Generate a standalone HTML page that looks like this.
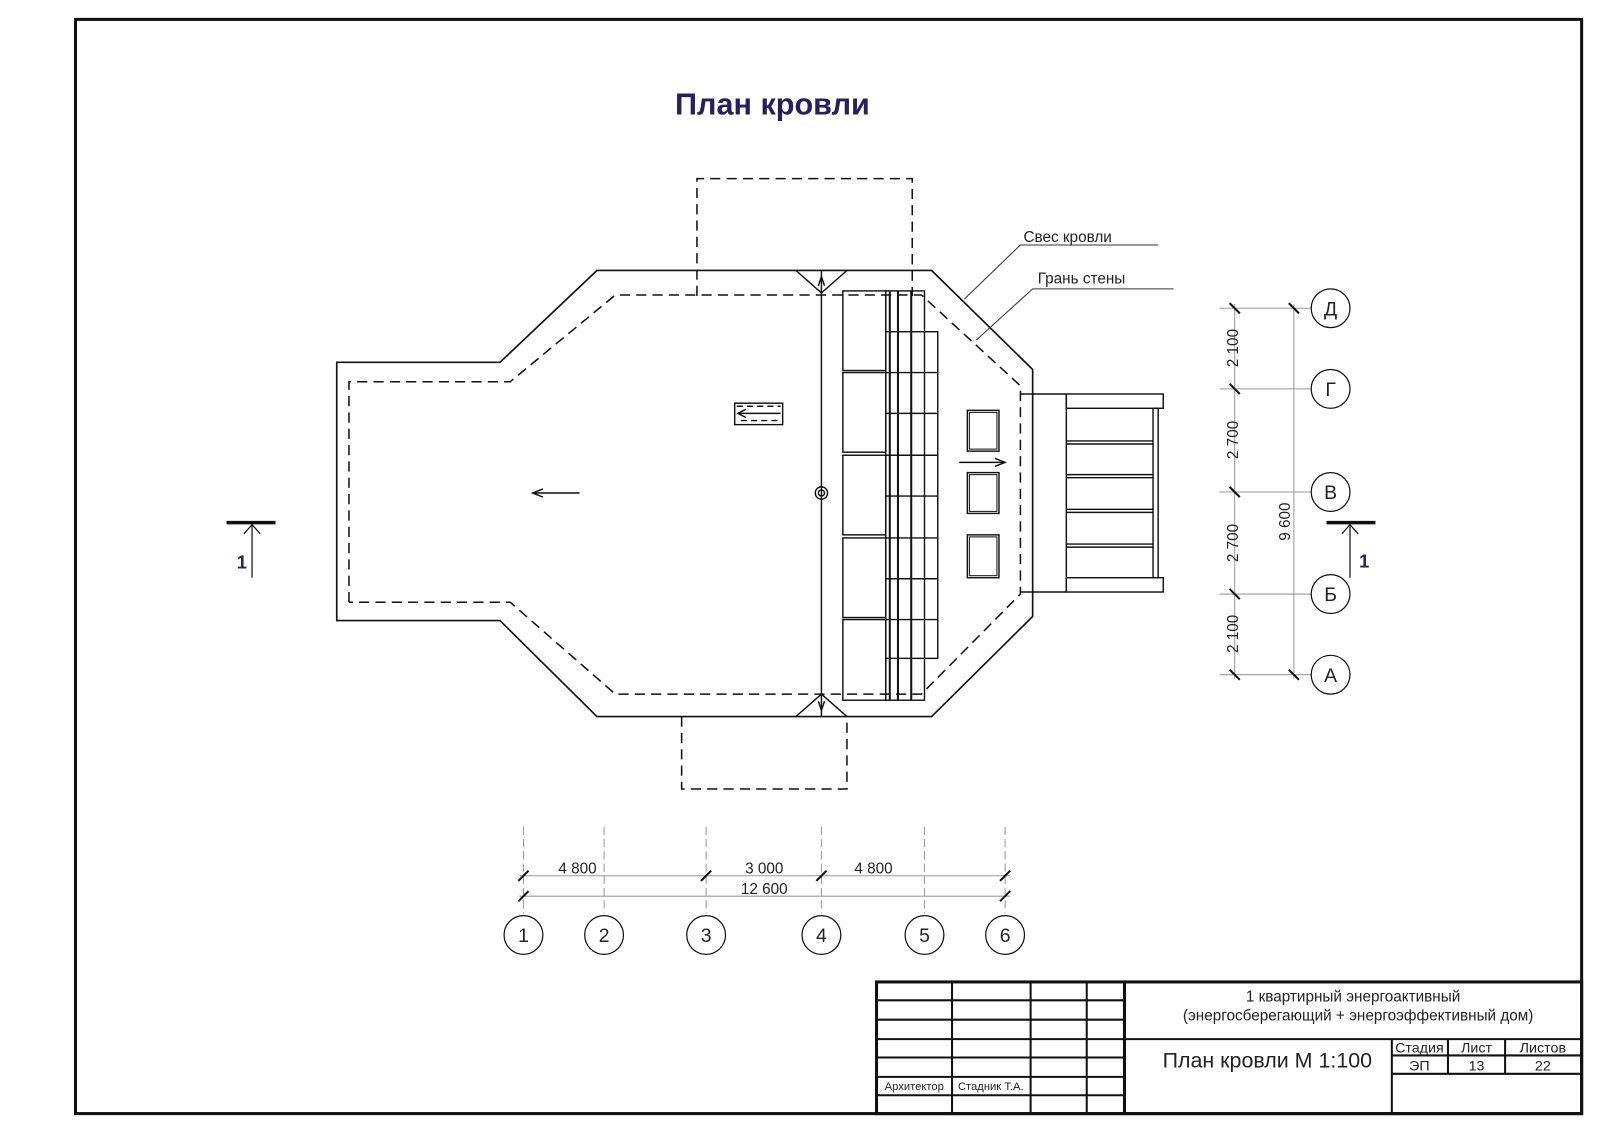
<!DOCTYPE html>
<html><head><meta charset="utf-8"><style>
html,body{margin:0;padding:0;background:#fff;width:1600px;height:1133px;overflow:hidden}
svg{display:block}
text{font-family:"Liberation Sans","DejaVu Sans",sans-serif;fill:#222}
</style></head><body>
<svg width="1600" height="1133" viewBox="0 0 1568 1110" preserveAspectRatio="none" xmlns="http://www.w3.org/2000/svg">
<rect x="0" y="0" width="1568" height="1110" fill="#fff"/>
<rect x="74" y="19" width="1476" height="1072" fill="none" stroke="#111" stroke-width="3"/>
<text x="757" y="112" font-size="30" font-weight="bold" text-anchor="middle" style="fill:#25205e">План кровли</text>

<g fill="none" stroke="#111" stroke-width="1.6">
<polygon points="585,265 913,265 1012,362 1012,604 913,702 585,702 490,608 330,608 330,355 490,355"/>
</g>
<g fill="none" stroke="#111" stroke-width="1.5" stroke-dasharray="10,6">
<polyline points="342,590 342,374 500,374 603,289 903,289 1000,378 1000,582 903,680 603,680 500,590 342,590"/>
<polyline points="683,290 683,175 894,175 894,290"/>
<polyline points="668,702 668,773 830,773 830,702"/>
</g>
<g fill="none" stroke="#111" stroke-width="1.4">
<line x1="805" y1="265" x2="805" y2="702"/>
<polyline points="780,265 805,287 830,265"/>
<polyline points="780,702 805,680 830,702"/>
<polyline points="802,280 805,271 808,280"/>
<polyline points="802,687 805,696 808,687"/>
<circle cx="805" cy="483" r="6"/><circle cx="805" cy="483" r="3"/>
<rect x="826" y="285" width="42" height="78"/>
<rect x="826" y="365" width="42" height="78"/>
<rect x="826" y="446" width="42" height="78"/>
<rect x="826" y="527" width="42" height="78"/>
<rect x="826" y="607" width="42" height="79"/>
<rect x="868" y="325" width="51" height="320"/>
<rect x="868" y="285" width="38" height="401"/>
<line x1="872" y1="285" x2="872" y2="686" stroke-width="2"/>
<line x1="880" y1="285" x2="880" y2="686" stroke-width="2"/>
<line x1="893" y1="285" x2="893" y2="686" stroke-width="2"/>
<line x1="868" y1="365" x2="919" y2="365"/>
<line x1="868" y1="405" x2="919" y2="405"/>
<line x1="868" y1="446" x2="919" y2="446"/>
<line x1="868" y1="486" x2="919" y2="486"/>
<line x1="868" y1="527" x2="919" y2="527"/>
<line x1="868" y1="567" x2="919" y2="567"/>
<line x1="868" y1="607" x2="919" y2="607"/>
<rect x="948" y="402" width="31" height="40" stroke-width="1.4"/><rect x="950" y="404" width="27" height="36" stroke-width="1"/>
<rect x="948" y="463" width="31" height="40" stroke-width="1.4"/><rect x="950" y="465" width="27" height="36" stroke-width="1"/>
<rect x="948" y="524" width="31" height="42" stroke-width="1.4"/><rect x="950" y="526" width="27" height="38" stroke-width="1"/>
<line x1="940" y1="453" x2="985" y2="453"/><polyline points="975,449 985,453 975,457"/>
<rect x="720" y="395" width="47" height="21"/>
<line x1="723" y1="405" x2="765" y2="405"/><polyline points="731,401 723,405 731,409"/>
<line x1="722" y1="398" x2="765" y2="398" stroke-dasharray="6,4"/>
<line x1="726" y1="412" x2="765" y2="412" stroke-dasharray="6,4"/>
<line x1="522" y1="483" x2="568" y2="483"/><polyline points="532,479 522,483 532,487"/>
<line x1="1000" y1="386" x2="1045" y2="386"/>
<line x1="1000" y1="580" x2="1045" y2="580"/>
<rect x="1045" y="386" width="95" height="14"/>
<rect x="1045" y="566" width="95" height="14"/>
<line x1="1045" y1="386" x2="1045" y2="580"/>
<rect x="1130" y="400" width="5" height="166"/>
<line x1="1045" y1="432" x2="1130" y2="432"/><line x1="1045" y1="435" x2="1130" y2="435"/>
<line x1="1045" y1="465" x2="1130" y2="465"/><line x1="1045" y1="468" x2="1130" y2="468"/>
<line x1="1045" y1="499" x2="1130" y2="499"/><line x1="1045" y1="502" x2="1130" y2="502"/>
<line x1="1045" y1="533" x2="1130" y2="533"/><line x1="1045" y1="536" x2="1130" y2="536"/>
</g>
<g stroke="#333" stroke-width="1" fill="none">
<polyline points="945,293 1000,240 1135,240"/>
<polyline points="957,333 1012,283 1150,283"/>
</g>
<text x="1003" y="237" font-size="15">Свес кровли</text>
<text x="1017" y="278" font-size="15">Грань стены</text>

<g stroke="#111" fill="none">
<line x1="222" y1="512" x2="270" y2="512" stroke-width="3.5"/>
<line x1="247" y1="514" x2="247" y2="566" stroke-width="1.2"/>
<polyline points="239,523 247,514 255,523" stroke-width="1.2"/>
<line x1="1300" y1="512" x2="1348" y2="512" stroke-width="3.5"/>
<line x1="1323" y1="514" x2="1323" y2="566" stroke-width="1.2"/>
<polyline points="1315,523 1323,514 1331,523" stroke-width="1.2"/>
</g>
<text x="232" y="557" font-size="18" font-weight="bold" style="fill:#25205e">1</text>
<text x="1332" y="556" font-size="18" font-weight="bold" style="fill:#25205e">1</text>

<g stroke="#999" stroke-width="1" fill="none">
<line x1="1210" y1="298" x2="1210" y2="665"/>
<line x1="1268" y1="298" x2="1268" y2="665"/>
<line x1="1195" y1="302" x2="1285" y2="302"/>
<line x1="1195" y1="381" x2="1285" y2="381"/>
<line x1="1195" y1="482" x2="1285" y2="482"/>
<line x1="1195" y1="582" x2="1285" y2="582"/>
<line x1="1195" y1="661" x2="1285" y2="661"/>
</g>
<g stroke="#111" stroke-width="2">
<line x1="1205" y1="297" x2="1215" y2="307"/><line x1="1263" y1="297" x2="1273" y2="307"/>
<line x1="1205" y1="376" x2="1215" y2="386"/>
<line x1="1205" y1="477" x2="1215" y2="487"/>
<line x1="1205" y1="577" x2="1215" y2="587"/>
<line x1="1205" y1="656" x2="1215" y2="666"/><line x1="1263" y1="656" x2="1273" y2="666"/>
</g>
<g font-size="15">
<text transform="translate(1213,341) rotate(-90)" text-anchor="middle">2 100</text>
<text transform="translate(1213,431) rotate(-90)" text-anchor="middle">2 700</text>
<text transform="translate(1213,532) rotate(-90)" text-anchor="middle">2 700</text>
<text transform="translate(1213,621) rotate(-90)" text-anchor="middle">2 100</text>
<text transform="translate(1264,511) rotate(-90)" text-anchor="middle">9 600</text>
</g>
<g fill="none" stroke="#111" stroke-width="1.2">
<circle cx="1304" cy="302" r="19"/><circle cx="1304" cy="381" r="19"/><circle cx="1304" cy="482" r="19"/><circle cx="1304" cy="582" r="19"/><circle cx="1304" cy="661" r="19"/>
</g>
<g font-size="19" text-anchor="middle">
<text x="1304" y="309">Д</text><text x="1304" y="388">Г</text><text x="1304" y="489">В</text><text x="1304" y="589">Б</text><text x="1304" y="668">А</text>
</g>

<g stroke="#999" stroke-width="1" fill="none">
<g stroke-dasharray="8,4">
<line x1="513" y1="810" x2="513" y2="895"/><line x1="592" y1="810" x2="592" y2="895"/><line x1="692" y1="810" x2="692" y2="895"/><line x1="805" y1="810" x2="805" y2="895"/><line x1="906" y1="810" x2="906" y2="895"/><line x1="985" y1="810" x2="985" y2="895"/>
</g>
<line x1="509" y1="858" x2="990" y2="858"/>
<line x1="509" y1="878" x2="990" y2="878"/>
</g>
<g stroke="#111" stroke-width="2">
<line x1="508" y1="863" x2="518" y2="853"/><line x1="687" y1="863" x2="697" y2="853"/><line x1="800" y1="863" x2="810" y2="853"/><line x1="980" y1="863" x2="990" y2="853"/>
<line x1="508" y1="883" x2="518" y2="873"/><line x1="980" y1="883" x2="990" y2="873"/>
</g>
<g font-size="15" text-anchor="middle">
<text x="566" y="856">4 800</text><text x="749" y="856">3 000</text><text x="856" y="856">4 800</text><text x="749" y="876">12 600</text>
</g>
<g fill="none" stroke="#111" stroke-width="1.2">
<circle cx="513" cy="916" r="19"/><circle cx="592" cy="916" r="19"/><circle cx="692" cy="916" r="19"/><circle cx="805" cy="916" r="19"/><circle cx="906" cy="916" r="19"/><circle cx="985" cy="916" r="19"/>
</g>
<g font-size="19" text-anchor="middle">
<text x="513" y="923">1</text><text x="592" y="923">2</text><text x="692" y="923">3</text><text x="805" y="923">4</text><text x="906" y="923">5</text><text x="985" y="923">6</text>
</g>

<g stroke="#111" stroke-width="2" fill="none">
<rect x="859" y="962" width="691" height="129" stroke-width="3"/>
<line x1="933" y1="962" x2="933" y2="1091"/>
<line x1="1010" y1="962" x2="1010" y2="1091"/>
<line x1="1065" y1="962" x2="1065" y2="1091"/>
<line x1="1102" y1="962" x2="1102" y2="1091" stroke-width="3"/>
<line x1="859" y1="980" x2="1102" y2="980"/>
<line x1="859" y1="999" x2="1102" y2="999"/>
<line x1="859" y1="1018" x2="1550" y2="1018"/>
<line x1="859" y1="1036" x2="1102" y2="1036"/>
<line x1="859" y1="1055" x2="1102" y2="1055"/>
<line x1="859" y1="1073" x2="1102" y2="1073"/>
<line x1="1364" y1="1018" x2="1364" y2="1091"/>
<line x1="1419" y1="1018" x2="1419" y2="1052"/>
<line x1="1475" y1="1018" x2="1475" y2="1052"/>
<line x1="1364" y1="1034" x2="1550" y2="1034"/>
<line x1="1364" y1="1052" x2="1550" y2="1052"/>
</g>
<g font-size="15" text-anchor="middle">
<text x="1326" y="981">1 квартирный энергоактивный</text>
<text x="1331" y="1000">(энергосберегающий + энергоэффективный дом)</text>
<text x="1242" y="1046" font-size="21">План кровли М 1:100</text>
<text x="1391" y="1031" font-size="14">Стадия</text><text x="1447" y="1031" font-size="14">Лист</text><text x="1512" y="1031" font-size="14">Листов</text>
<text x="1391" y="1049" font-size="14">ЭП</text><text x="1447" y="1049" font-size="14">13</text><text x="1512" y="1049" font-size="14">22</text>
</g>
<text x="896" y="1068" font-size="11" text-anchor="middle">Архитектор</text>
<text x="971" y="1068" font-size="11" text-anchor="middle">Стадник Т.А.</text>
</svg>
</body></html>
